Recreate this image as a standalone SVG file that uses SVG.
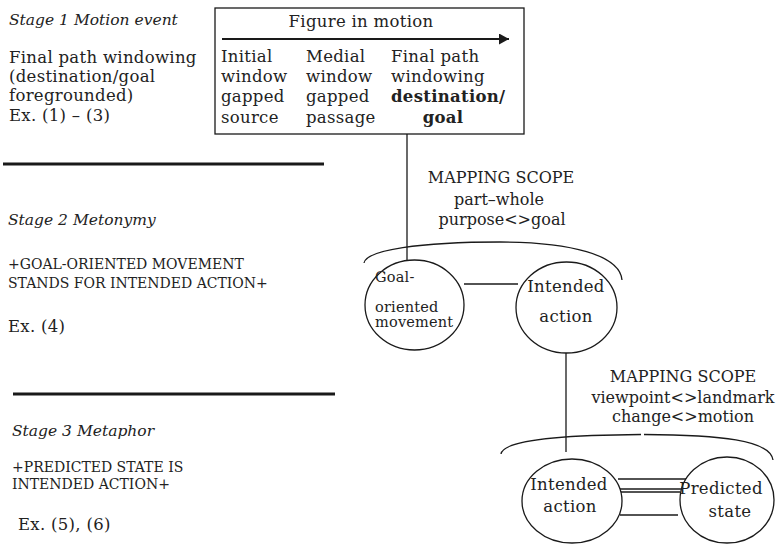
<svg xmlns="http://www.w3.org/2000/svg" width="780" height="545" viewBox="0 0 780 545">
<style>
text{font-family:"DejaVu Serif","Liberation Serif",serif;fill:#222;}
.m{font-size:16.5px;letter-spacing:0.3px;}
.ms{font-size:16px;}
.it{font-size:15.5px;font-style:italic;}
.sm{font-size:14px;}
.go{font-size:14.5px;letter-spacing:0.2px;}
.b{font-weight:bold;}
.c{text-anchor:middle;}
.rule{stroke:#1a1a1a;stroke-width:3;fill:none;}
.ln{stroke:#1a1a1a;stroke-width:1.3;fill:none;}
.node{stroke:#1a1a1a;stroke-width:1.3;fill:#fff;}
</style>
<defs>
<marker id="ah" viewBox="0 0 10 11" refX="10" refY="5.5" markerWidth="10" markerHeight="11" markerUnits="userSpaceOnUse" orient="auto">
<path d="M0,0 L10,5.5 L0,11 z" fill="#1a1a1a"/>
</marker>
</defs>
<rect width="780" height="545" fill="#fff"/>

<g id="stage1-label">
<text class="it" x="9" y="25">Stage 1 Motion event</text>
<text class="m" x="9" y="63">Final path windowing</text>
<text class="m" x="9" y="82">(destination/goal</text>
<text class="m" x="9" y="101">foregrounded)</text>
<text class="m" x="9" y="121">Ex. (1) – (3)</text>
</g>
<line class="rule" x1="3" y1="164" x2="324" y2="164"/>

<g id="stage2-label">
<text class="it" x="8" y="225">Stage 2 Metonymy</text>
<text class="sm" x="8" y="269">+GOAL-ORIENTED MOVEMENT</text>
<text class="sm" x="8" y="288">STANDS FOR INTENDED ACTION+</text>
<text class="m" x="8" y="332">Ex. (4)</text>
</g>
<line class="rule" x1="13" y1="394" x2="335" y2="394"/>

<g id="stage3-label">
<text class="it" x="12" y="436">Stage 3 Metaphor</text>
<text class="sm" x="12" y="472">+PREDICTED STATE IS</text>
<text class="sm" x="12" y="489">INTENDED  ACTION+</text>
<text class="m" x="18" y="530">Ex. (5), (6)</text>
</g>

<g id="motion-box">
<rect x="215" y="8" width="309" height="126" fill="#fff" stroke="#1a1a1a" stroke-width="1.3"/>
<text class="m c" x="361" y="27">Figure in motion</text>
<line x1="222" y1="39" x2="509" y2="39" stroke="#1a1a1a" stroke-width="1.8" marker-end="url(#ah)"/>
<text class="m" x="221" y="62">Initial</text>
<text class="m" x="221" y="82">window</text>
<text class="m" x="221" y="102">gapped</text>
<text class="m" x="221" y="123">source</text>
<text class="m" x="306" y="62">Medial</text>
<text class="m" x="306" y="82">window</text>
<text class="m" x="306" y="102">gapped</text>
<text class="m" x="306" y="123">passage</text>
<text class="m" x="391" y="62">Final path</text>
<text class="m" x="391" y="82">windowing</text>
<text class="m b" x="391" y="102">destination/</text>
<text class="m b c" x="443" y="123">goal</text>
</g>

<g id="connectors">
<line class="ln" x1="407" y1="134" x2="407" y2="260"/>
<line class="ln" x1="464" y1="284" x2="518" y2="284"/>
<line class="ln" x1="566" y1="353" x2="566" y2="452"/>
<line class="ln" x1="618" y1="479" x2="687" y2="479"/>
<line class="ln" x1="619" y1="489" x2="682" y2="489"/>
<line class="ln" x1="608" y1="492" x2="680" y2="492"/>
<line class="ln" x1="620" y1="515" x2="678" y2="515"/>
</g>

<g id="scope1">
<text class="ms c" x="501" y="183">MAPPING  SCOPE</text>
<text class="ms c" x="499" y="205">part–whole</text>
<text class="ms c" x="502" y="225">purpose&lt;&gt;goal</text>
<path class="ln" d="M364,263 C366,250 420,242 500,242 C570,242 620,255 622,280"/>
</g>

<g id="scope2">
<text class="ms c" x="683" y="382">MAPPING  SCOPE</text>
<text class="ms c" x="683" y="403">viewpoint&lt;&gt;landmark</text>
<text class="ms c" x="683" y="422">change&lt;&gt;motion</text>
<path class="ln" d="M501,454 C503,440 560,435 641,434.5"/>
<path class="ln" d="M644,434.5 C720,435 770,440 773,460"/>
</g>

<g id="node-goal-oriented">
<ellipse class="node" cx="414.5" cy="305" rx="49.5" ry="45"/>
<text class="go" x="375" y="282">Goal-</text>
<text class="go" x="375" y="312">oriented</text>
<text class="go" x="375" y="327">movement</text>
</g>

<g id="node-intended-1">
<ellipse class="node" cx="566.5" cy="307.5" rx="50.5" ry="45.5"/>
<text class="m c" x="566" y="292">Intended</text>
<text class="m c" x="566" y="322">action</text>
</g>

<g id="node-intended-2">
<ellipse class="node" cx="572" cy="501" rx="50" ry="42"/>
<text class="m c" x="569" y="490">Intended</text>
<text class="m c" x="570" y="512">action</text>
</g>

<g id="node-predicted">
<ellipse class="node" cx="727" cy="500" rx="47" ry="43"/>
<text class="m c" x="721" y="494">Predicted</text>
<text class="m c" x="730" y="517">state</text>
</g>
</svg>
